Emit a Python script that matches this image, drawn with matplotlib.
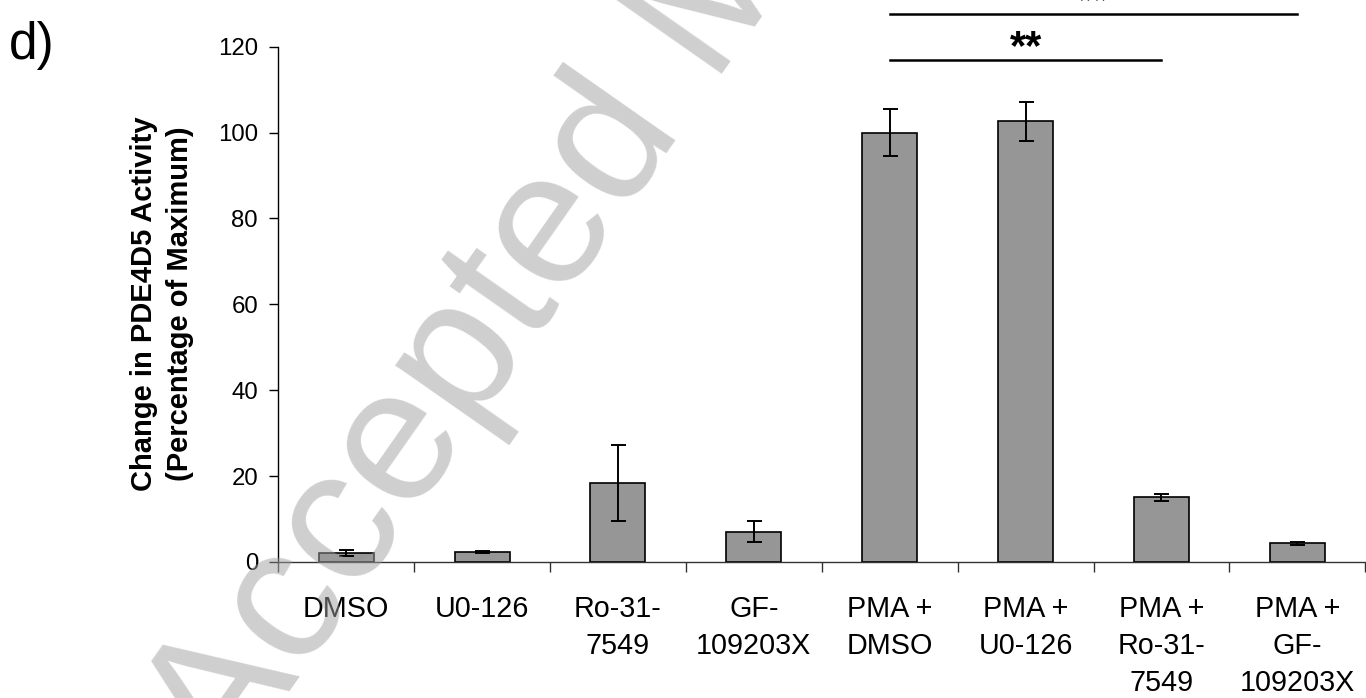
import matplotlib
matplotlib.use("Agg")
import matplotlib.pyplot as plt
import numpy as np

plt.rcParams['font.family'] = ['Liberation Sans', 'DejaVu Sans']

categories = ["DMSO", "U0-126", "Ro-31-\n7549", "GF-\n109203X",
              "PMA +\nDMSO", "PMA +\nU0-126", "PMA +\nRo-31-\n7549", "PMA +\nGF-\n109203X"]
values = [2.0, 2.3, 18.4, 7.1, 100.0, 102.6, 15.1, 4.35]
errors = [0.7, 0.3, 8.9, 2.4, 5.4, 4.6, 0.8, 0.4]
yticks = [0, 20, 40, 60, 80, 100, 120]

# significance brackets: (start index, end index, height, label height, label)
sig_lines = [(4, 7, 127.5, 130.3, "**"), (4, 6, 116.9, 119.6, "**")]

fig = plt.figure(figsize=(13.66, 6.98), dpi=100)
ax = fig.add_axes([278.2 / 1366, 1 - 562 / 698, 1 - 278.2 / 1366 - 0.0005, (562 - 46.7) / 698])

x = np.arange(len(categories))
ax.bar(x, values, width=0.405, color='#969696', edgecolor='black', linewidth=1.2, zorder=2)
ax.errorbar(x, values, yerr=errors, fmt='none', ecolor='black', elinewidth=1.4,
            capsize=5.4, capthick=1.4, zorder=3)

ax.set_xlim(-0.5, len(categories) - 0.5)
ax.set_ylim(0, 120)
ax.set_yticks(yticks)
ax.set_yticklabels([str(v) for v in yticks], fontsize=17.3)
ax.tick_params(axis='y', length=6.5, width=1, direction='out', pad=8)

ax.set_xticks(x)
ax.set_xticklabels(categories, fontsize=20.7, linespacing=1.4)
ax.tick_params(axis='x', which='major', length=0, pad=24)
ax.set_xticks(np.arange(-0.5, len(categories)), minor=True)
ax.tick_params(axis='x', which='minor', length=7.5, width=1, direction='out', color='#333333')

for s in ['top', 'right']:
    ax.spines[s].set_visible(False)
ax.spines['left'].set_linewidth(1)
ax.spines['bottom'].set_linewidth(1)
ax.spines['bottom'].set_color('#333333')

for i0, i1, h, th, lab in sig_lines:
    ax.plot([x[i0], x[i1]], [h, h], color='black', lw=1.8, clip_on=False, zorder=4)
    ax.text((x[i0] + x[i1]) / 2, th, lab, ha='center', va='center', fontsize=30,
            fontweight='bold', clip_on=False, zorder=4)

fig.text(162 / 1366, 1 - 304 / 698,
         "Change in PDE4D5 Activity\n(Percentage of Maximum)",
         rotation=90, ha='center', va='center', multialignment='center',
         fontsize=21, fontweight='bold', linespacing=1.4)

fig.text(9 / 1366, 1 - 59 / 698, "d)", fontsize=37, ha='left', va='baseline')

# watermark
fig.text(228 / 1366, 1 - 780 / 698, "Accepted Manuscript", rotation=55,
         rotation_mode='anchor', ha='left', va='baseline', fontsize=137,
         color='#a0a0a0', alpha=0.5, zorder=10)

fig.savefig("out.png", dpi=100)
